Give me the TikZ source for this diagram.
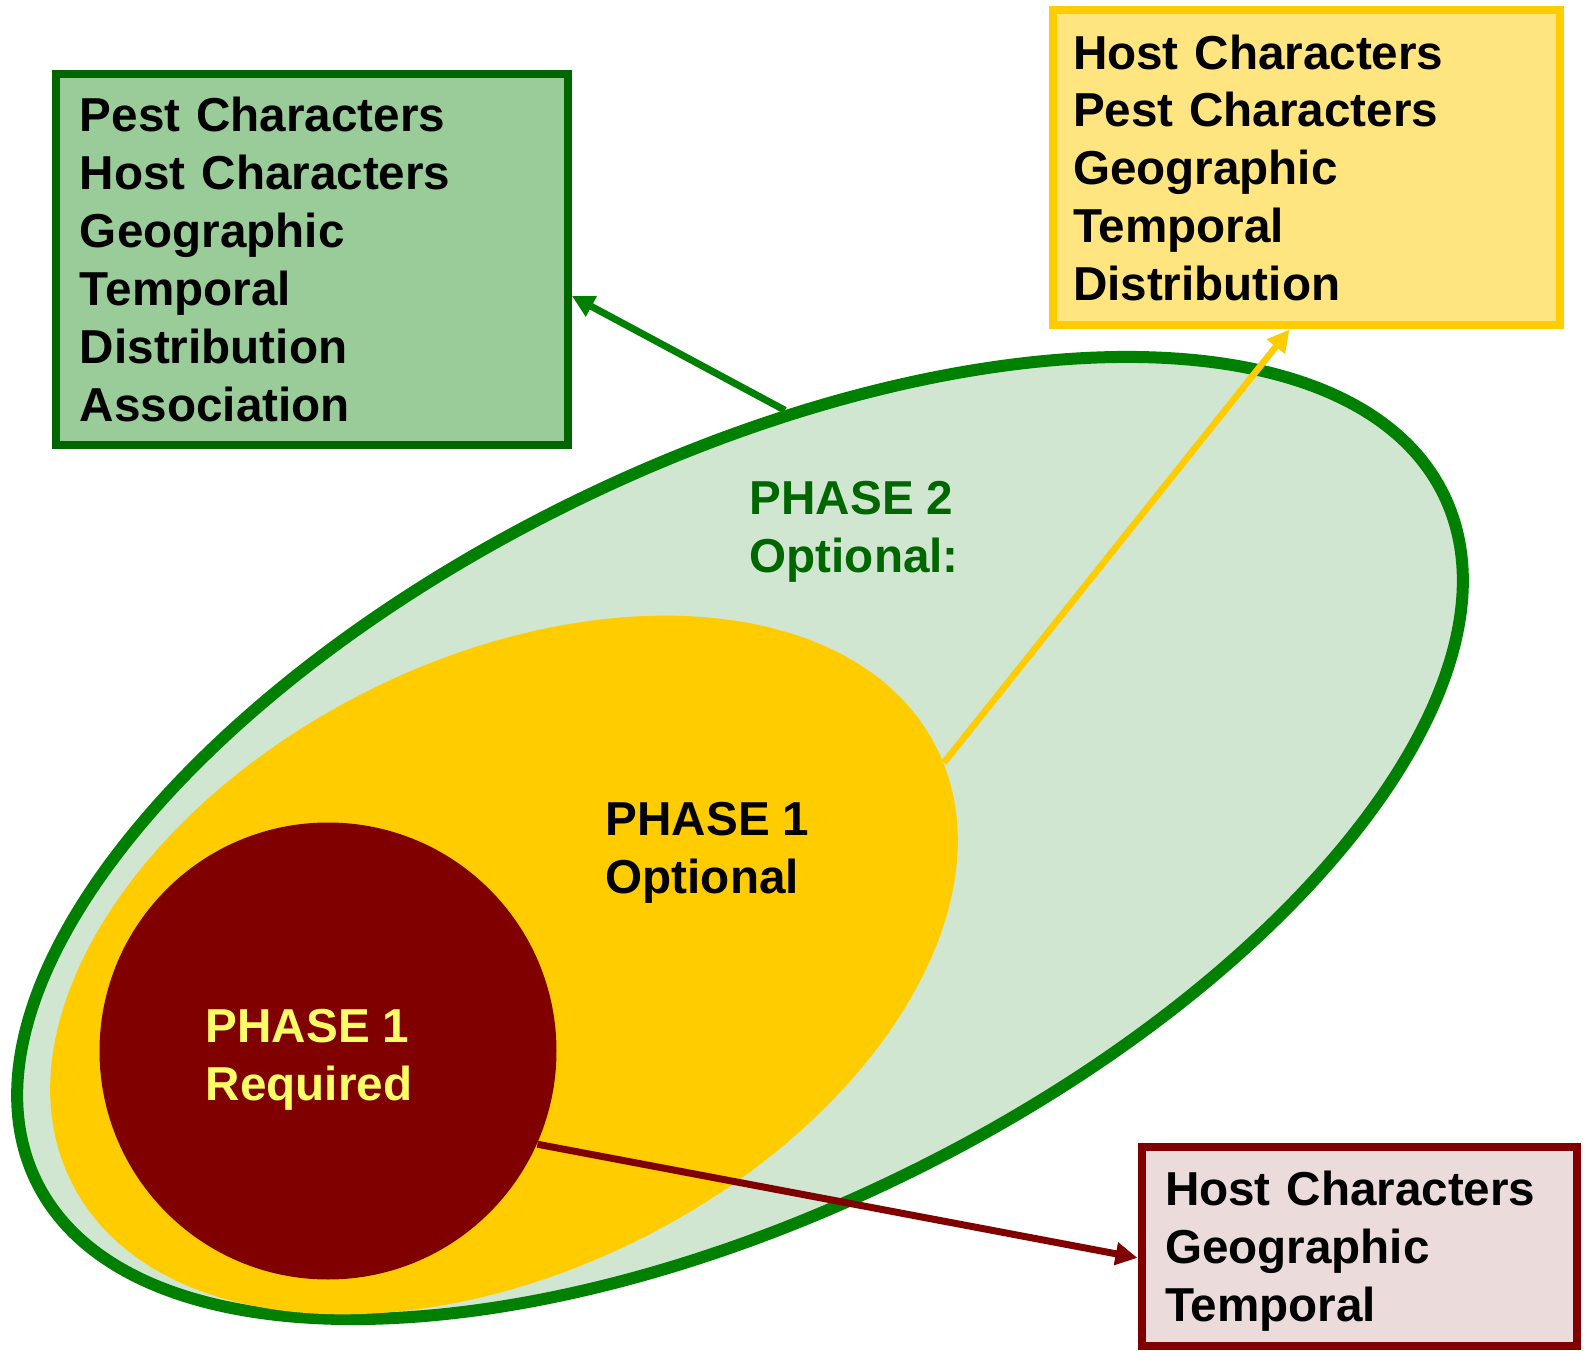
\documentclass[tikz,border=0pt]{standalone}
\usepackage{fontspec}
\setmainfont{Liberation Sans}
\usepackage{tikz}
\usetikzlibrary{shapes.geometric,arrows.meta}

\definecolor{pgreen}{RGB}{0,128,0}
\definecolor{pgreendark}{RGB}{0,102,0}
\definecolor{pgreenlight}{RGB}{208,230,208}
\definecolor{pgreenbox}{RGB}{153,204,153}
\definecolor{pyellow}{RGB}{255,204,0}
\definecolor{pyellowbox}{RGB}{255,229,127}
\definecolor{pred}{RGB}{128,0,0}
\definecolor{predbox}{RGB}{236,219,219}
\definecolor{preqtext}{RGB}{255,255,102}

\begin{document}
\begin{tikzpicture}[
        font=\fontsize{13.55}{16.45}\selectfont\bfseries,
        >={Triangle[length=0.22cm,width=0.22cm]},
        listbox/.style={line width=0.08cm, inner ysep=0pt, align=left},
        phasetext/.style={anchor=north west, inner sep=0pt, align=left}]
        \useasboundingbox (0,0) rectangle (15.9,13.5);

        \node [ellipse, draw=pgreen, fill=pgreenlight, line width=0.12cm, rotate=26,
               minimum width=15.66cm, minimum height=7.5cm] (phasetwo) at (7.40,5.12) {};
        \node [ellipse, fill=pyellow, rotate=26.7,
               minimum width=9.68cm, minimum height=6.12cm] (phaseopt) at (5.04,3.85) {};
        \node [circle, fill=pred, minimum size=4.57cm] (phasereq) at (3.28,2.99) {};

        \node [phasetext, text=pgreendark] (phasetwolabel) at (7.49,8.69) {PHASE 2\\Optional:};
        \node [phasetext] (phaseoptlabel) at (6.05,5.48) {PHASE 1\\Optional};
        \node [phasetext, text=preqtext] (phasereqlabel) at (2.05,3.41) {PHASE 1\\Required};

        \node [listbox, draw=pgreendark, fill=pgreenbox, minimum width=5.12cm, minimum height=3.71cm,
               inner xsep=0.24cm, text width=4.64cm] (phasetwobox) at (3.12,10.905)
               {Pest Characters\\Host Characters\\Geographic\\Temporal\\Distribution\\Association};
        \node [listbox, draw=pyellow, fill=pyellowbox, minimum width=5.07cm, minimum height=3.155cm,
               inner xsep=0.20cm, text width=4.67cm] (phaseoptbox) at (13.065,11.8225)
               {Host Characters\\Pest Characters\\Geographic\\Temporal\\Distribution};
        \node [listbox, draw=pred, fill=predbox, minimum width=4.355cm, minimum height=1.995cm,
               inner xsep=0.235cm, text width=3.885cm] (phasereqbox) at (13.5925,1.0375)
               {Host Characters\\Geographic\\\smash{Temporal}};

        \draw [pgreen, line width=0.07cm, ->]  (phasetwo.58.4)  -- (phasetwobox.-8.7);
        \draw [pyellow, line width=0.065cm, ->] (phaseopt.-2.5) -- (phaseoptbox.-96.5);
        \draw [pred, line width=0.07cm, ->]    (phasereq.-24.7) -- (phasereqbox.-177.2);
      \end{tikzpicture}
\end{document}
